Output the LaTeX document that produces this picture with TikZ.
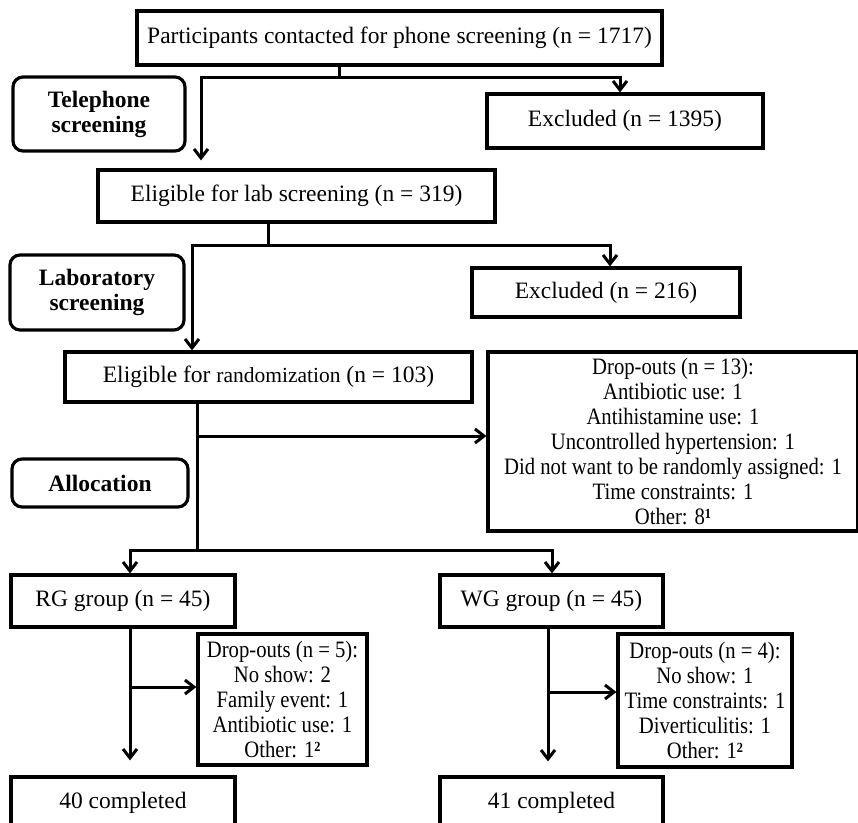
\documentclass[tikz,border=0pt]{standalone}
\usepackage{fontspec}
\setmainfont{Liberation Serif}
\newfontfamily\narrowfont{Liberation Serif}[FakeStretch=0.88]
\usetikzlibrary{arrows.meta,positioning,calc}
\newcommand{\fnmark}[1]{\raisebox{6pt}{\fontsize{14}{14}\selectfont\bfseries #1}}
\tikzset{bx/.style={draw,line width=3.2pt,inner sep=2pt,align=center},
 rbx/.style={bx,rounded corners=10pt,font=\fontsize{23.5}{25}\selectfont\bfseries},
 dbx/.style={bx,font=\narrowfont\fontsize{23.5}{25}\selectfont},
 ln/.style={line width=3pt},
 arr/.style={ln,-{Straight Barb[length=9pt,width=14pt]}},
 every node/.style={font=\fontsize{23.5}{25}\selectfont}}
\begin{document}
\begin{tikzpicture}[x=1pt,y=-1pt]
\useasboundingbox (0,0) rectangle (858,822);
% screening
\node[bx,minimum width=525,minimum height=54] (top) at (399.5,38) {Participants contacted for phone screening (n = 1717)};
\node[rbx,minimum width=172,minimum height=74] (tel) at (99,114) {Telephone\\screening};
\node[bx,minimum width=276,minimum height=54] (exc1) at (625,121) {Excluded (n = 1395)};
\node[bx,minimum width=397,minimum height=52] (lab) at (296.5,196) {Eligible for lab screening (n = 319)};
\node[rbx,minimum width=174,minimum height=75] (labscr) at (97,292.5) {Laboratory\\screening};
\node[bx,minimum width=268,minimum height=49] (exc2) at (606,292.5) {Excluded (n = 216)};
% randomization
\node[bx,minimum width=407,minimum height=50] (rand) at (268.5,377) {Eligible for {\fontsize{21.5}{25}\selectfont randomization} (n = 103)};
\node[dbx,minimum width=370,minimum height=179] (drop) at (673,441.5) {Drop-outs (n = 13):\\Antibiotic use: 1\\Antihistamine use: 1\\Uncontrolled hypertension: 1\\Did not want to be randomly assigned: 1\\Time constraints: 1\\Other: 8\fnmark{1}};
\node[rbx,minimum width=176,minimum height=48] (alloc) at (100,483) {Allocation};
% groups
\node[bx,minimum width=224,minimum height=52] (rg) at (123,601) {RG group (n = 45)};
\node[bx,minimum width=223,minimum height=52] (wg) at (551.5,601) {WG group (n = 45)};
\node[dbx,minimum width=169,minimum height=131] (rgd) at (282.5,699.5) {Drop-outs (n = 5):\\No show: 2\\Family event: 1\\Antibiotic use: 1\\Other: 1\fnmark{2}};
\node[dbx,minimum width=174,minimum height=133] (wgd) at (705,700.5) {Drop-outs (n = 4):\\No show: 1\\Time constraints: 1\\Diverticulitis: 1\\Other: 1\fnmark{2}};
\node[bx,minimum width=224,minimum height=52] (c40) at (123,803) {40 completed};
\node[bx,minimum width=223,minimum height=52] (c41) at (551.5,803) {41 completed};
% junctions
\coordinate (j1) at (339,77);
\coordinate (l1) at (201,77);
\coordinate (r1) at (620,77);
\coordinate (j2) at (268,245);
\coordinate (l2) at (192,245);
\coordinate (r2) at (610,245);
\coordinate (j3) at (197,436);
\coordinate (j4) at (197,550);
\coordinate (l4) at (130,550);
\coordinate (r4) at (552,550);
\coordinate (j5) at (130,687);
\coordinate (j6) at (548,692);
% connectors
\draw[ln] (top.south -| j1) -- (j1);
\draw[arr] (j1) -- (r1) -- (r1 |- exc1.north);
\draw[arr] (j1) -- (l1) -- ([yshift=8pt]l1 |- lab.north);
\draw[ln] (lab.south -| j2) -- (j2);
\draw[arr] (j2) -- (r2) -- (r2 |- exc2.north);
\draw[arr] (j2) -- (l2) -- (l2 |- rand.north);
\draw[ln] (rand.south -| j3) -- (j4);
\draw[arr] (j3) -- (j3 -| drop.west);
\draw[arr] (j4) -- (l4) -- (l4 |- rg.north);
\draw[arr] (j4) -- (r4) -- (r4 |- wg.north);
\draw[arr] (rg.south -| j5) -- ([yshift=15pt]c40.north -| j5);
\draw[arr] (j5) -- (j5 -| rgd.west);
\draw[arr] (wg.south -| j6) -- ([yshift=14pt]c41.north -| j6);
\draw[arr] (j6) -- (j6 -| wgd.west);
\end{tikzpicture}
\end{document}
